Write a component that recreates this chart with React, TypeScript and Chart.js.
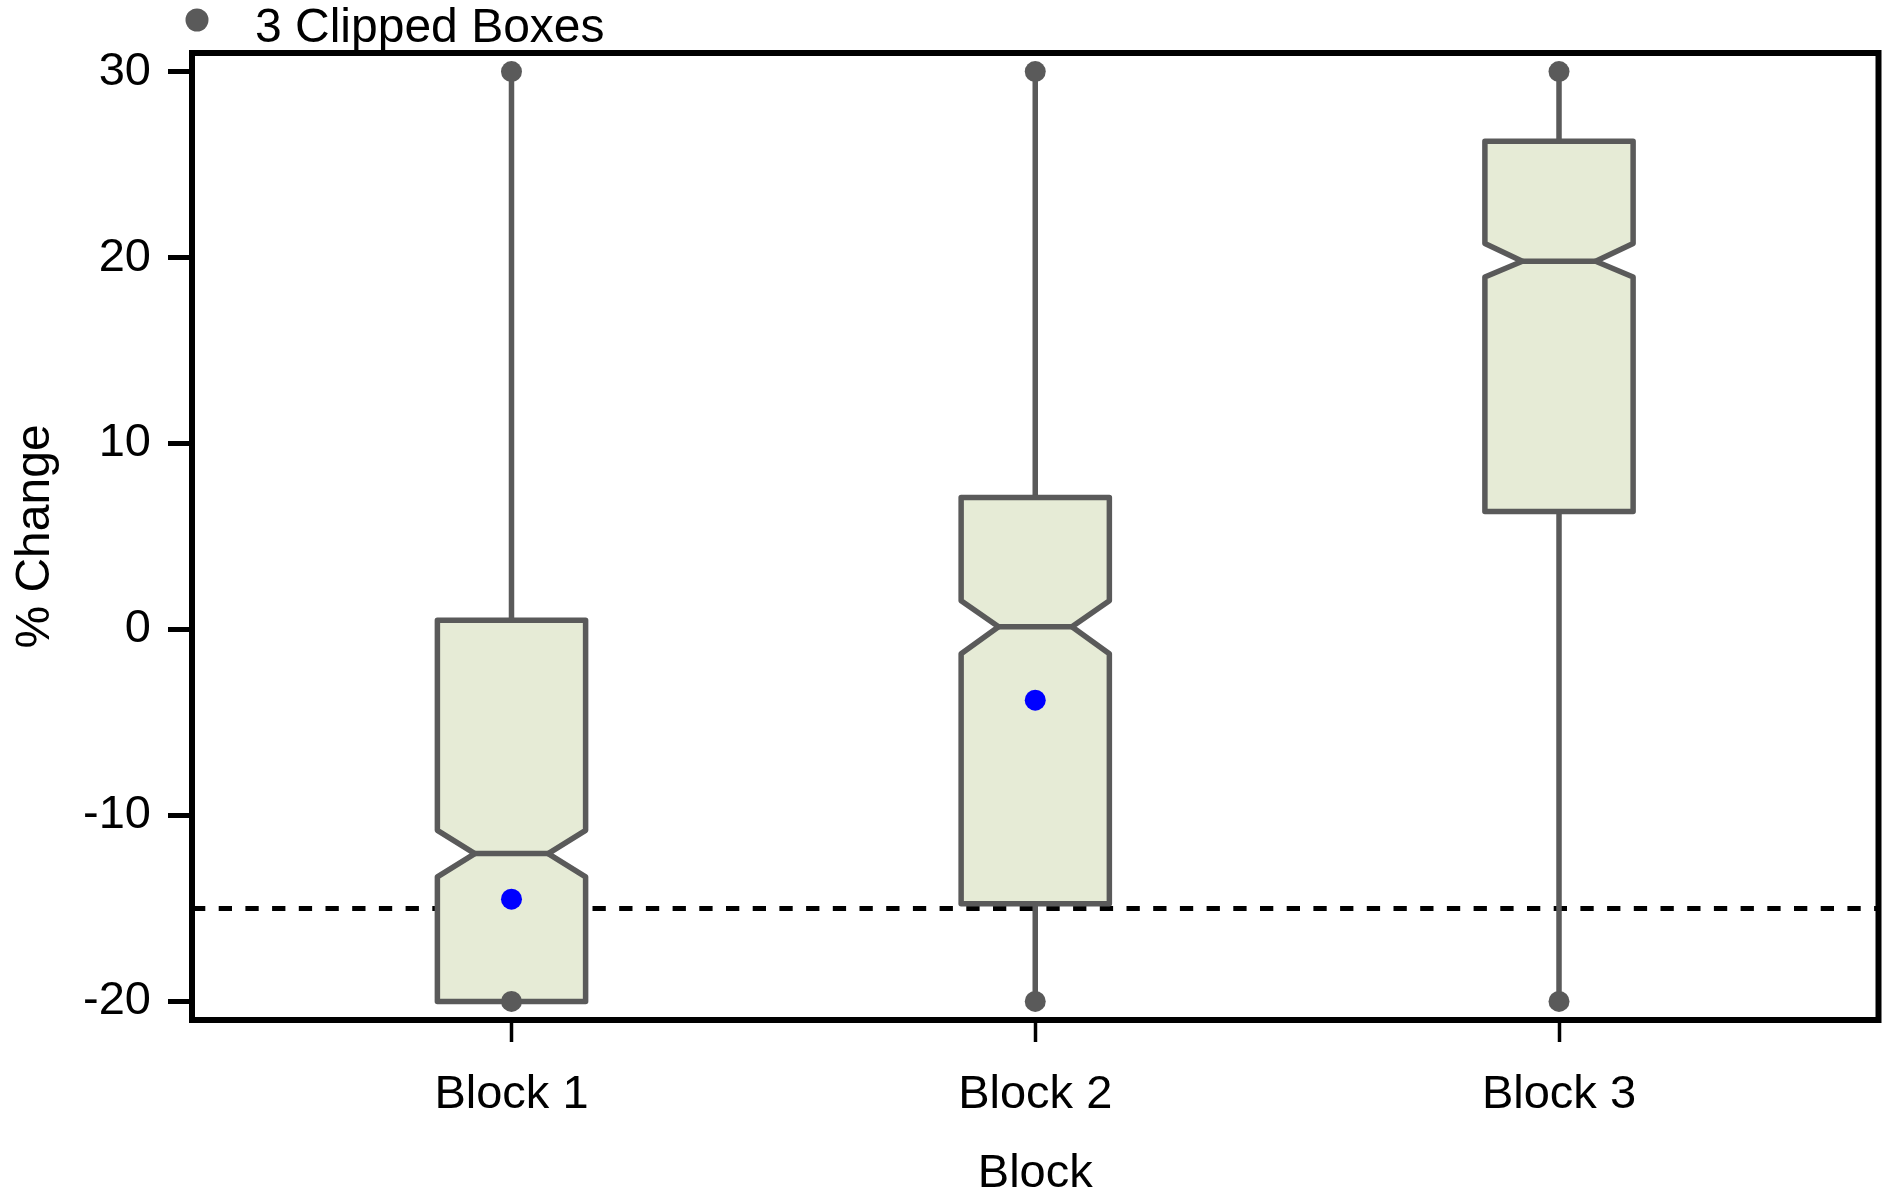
import React, { useEffect, useRef } from 'react';
import { Chart, registerables } from 'chart.js';

Chart.register(...registerables);

// ---- data ----
const blocks = ['Block 1', 'Block 2', 'Block 3'];
const q1 = [-20, -14.75, 6.35];
const q3 = [0.5, 7.1, 26.25];
const medians = [-12.05, 0.15, 19.8];
const notchLow = [-13.3, -1.3, 18.95];
const notchHigh = [-10.8, 1.55, 20.75];
const whiskerLow = [-20, -20, -20];
const whiskerHigh = [30, 30, 30];
const means: (number | null)[] = [-14.5, -3.8, null];
const refLine = -15;
const yTicks = [-20, -10, 0, 10, 20, 30];
const legendText = '3 Clipped Boxes';
const yTitle = '% Change';
const xTitle = 'Block';

// ---- styles ----
const FONT = '"Liberation Sans", Arial, Helvetica, sans-serif';
const FS = 47;
const BOX_FILL = 'rgb(230,235,214)';
const BOX_STROKE = '#5a5a5a';
const BOX_HALF = 0.1415;
const NOTCH_HALF = 0.07;

const boxPlugin = {
  id: 'notchedBoxes',
  beforeDatasetsDraw(chart: any) {
    const { ctx, chartArea, scales } = chart;
    const x = scales.x;
    const y = scales.y;
    ctx.save();
    // reference dashed line
    const ry = y.getPixelForValue(refLine);
    ctx.beginPath();
    ctx.setLineDash([13.3, 13.4]);
    ctx.lineWidth = 5;
    ctx.strokeStyle = '#000';
    ctx.moveTo(chartArea.left, ry);
    ctx.lineTo(chartArea.right, ry);
    ctx.stroke();
    ctx.setLineDash([]);

    blocks.forEach((_, i) => {
      const c = i + 1;
      const cx = x.getPixelForValue(c);
      const l = x.getPixelForValue(c - BOX_HALF);
      const r = x.getPixelForValue(c + BOX_HALF);
      const nl = x.getPixelForValue(c - NOTCH_HALF);
      const nr = x.getPixelForValue(c + NOTCH_HALF);
      const yq1 = y.getPixelForValue(q1[i]);
      const yq3 = y.getPixelForValue(q3[i]);
      const ym = y.getPixelForValue(medians[i]);
      const ynl = y.getPixelForValue(notchLow[i]);
      const ynh = y.getPixelForValue(notchHigh[i]);
      const ywl = y.getPixelForValue(whiskerLow[i]);
      const ywh = y.getPixelForValue(whiskerHigh[i]);

      ctx.strokeStyle = BOX_STROKE;
      ctx.lineWidth = 5.5;
      ctx.lineCap = 'butt';
      // whiskers
      ctx.beginPath();
      ctx.moveTo(cx, ywh);
      ctx.lineTo(cx, yq3);
      ctx.moveTo(cx, yq1);
      ctx.lineTo(cx, ywl);
      ctx.stroke();

      // notched box
      ctx.lineJoin = 'round';
      ctx.beginPath();
      ctx.moveTo(l, yq3);
      ctx.lineTo(r, yq3);
      ctx.lineTo(r, ynh);
      ctx.lineTo(nr, ym);
      ctx.lineTo(r, ynl);
      ctx.lineTo(r, yq1);
      ctx.lineTo(l, yq1);
      ctx.lineTo(l, ynl);
      ctx.lineTo(nl, ym);
      ctx.lineTo(l, ynh);
      ctx.closePath();
      ctx.fillStyle = BOX_FILL;
      ctx.fill();
      ctx.stroke();
      // median
      ctx.beginPath();
      ctx.moveTo(nl, ym);
      ctx.lineTo(nr, ym);
      ctx.stroke();
    });
    ctx.restore();
  },
  afterDraw(chart: any) {
    const { ctx, chartArea } = chart;
    ctx.save();
    ctx.strokeStyle = '#000';
    ctx.lineWidth = 6;
    ctx.lineJoin = 'miter';
    ctx.strokeRect(
      chartArea.left,
      chartArea.top,
      chartArea.right - chartArea.left,
      chartArea.bottom - chartArea.top
    );
    // legend
    ctx.fillStyle = BOX_STROKE;
    ctx.beginPath();
    ctx.arc(197, 20, 11.5, 0, Math.PI * 2);
    ctx.fill();
    ctx.fillStyle = '#000';
    ctx.font = `48px ${FONT}`;
    ctx.textAlign = 'left';
    ctx.textBaseline = 'middle';
    ctx.fillText(legendText, 255, 29);
    ctx.restore();
  },
};

export default function App() {
  const ref = useRef<HTMLCanvasElement | null>(null);

  useEffect(() => {
    document.body.style.margin = '0';
    const canvas = ref.current;
    if (!canvas) return;

    const whiskerPts = [
      ...whiskerLow.map((v, i) => ({ x: i + 1, y: v })),
      ...whiskerHigh.map((v, i) => ({ x: i + 1, y: v })),
    ];
    const meanPts = means
      .map((v, i) => (v === null ? null : { x: i + 1, y: v }))
      .filter((p) => p !== null) as { x: number; y: number }[];

    const chart = new Chart(canvas, {
      type: 'scatter',
      data: {
        datasets: [
          {
            label: 'whisker ends',
            data: whiskerPts,
            pointRadius: 10.5,
            pointBackgroundColor: BOX_STROKE,
            pointBorderWidth: 0,
            showLine: false,
          },
          {
            label: 'mean',
            data: meanPts,
            pointRadius: 10.5,
            pointBackgroundColor: '#0000ff',
            pointBorderWidth: 0,
            showLine: false,
          },
        ],
      },
      options: {
        animation: false,
        responsive: true,
        maintainAspectRatio: false,
        layout: { padding: { top: 53, right: 8, left: 0, bottom: 0 } },
        plugins: {
          legend: { display: false },
          tooltip: { enabled: false },
        },
        scales: {
          x: {
            type: 'linear',
            min: 0.39,
            max: 3.61,
            afterBuildTicks: (s: any) => {
              s.ticks = blocks.map((_, i) => ({ value: i + 1 }));
            },
            afterFit: (s: any) => {
              s.height = 174;
            },
            ticks: {
              autoSkip: false,
              maxRotation: 0,
              padding: 30,
              color: '#000',
              font: { family: FONT, size: FS, lineHeight: 1 },
              callback: (v: any) => blocks[Math.round(Number(v)) - 1] ?? '',
            },
            grid: {
              display: true,
              drawOnChartArea: false,
              drawTicks: true,
              tickLength: 22,
              tickWidth: 3.5,
              tickColor: '#000',
            },
            border: { display: false },
            title: {
              display: true,
              text: xTitle,
              color: '#000',
              font: { family: FONT, size: FS, lineHeight: 0.86 },
              padding: { top: 0, bottom: 0 },
            },
          },
          y: {
            type: 'linear',
            min: -21,
            max: 31,
            afterBuildTicks: (s: any) => {
              s.ticks = yTicks.map((v) => ({ value: v }));
            },
            afterFit: (s: any) => {
              s.width = 192;
            },
            ticks: {
              padding: 17,
              color: '#000',
              font: { family: FONT, size: FS, lineHeight: 1 },
              callback: (v: any) => String(v),
            },
            grid: {
              display: true,
              drawOnChartArea: false,
              drawTicks: true,
              tickLength: 24,
              tickWidth: 5,
              tickColor: '#000',
            },
            border: { display: false },
            title: {
              display: true,
              text: yTitle,
              color: '#000',
              font: { family: FONT, size: 48, lineHeight: 1 },
              padding: { top: 12, bottom: 0 },
            },
          },
        },
      },
      plugins: [boxPlugin],
    } as any);

    return () => {
      chart.destroy();
    };
  }, []);

  return (
    <div style={{ position: 'relative', width: '1889px', height: '1194px' }}>
      <canvas ref={ref} style={{ display: 'block' }} />
    </div>
  );
}
